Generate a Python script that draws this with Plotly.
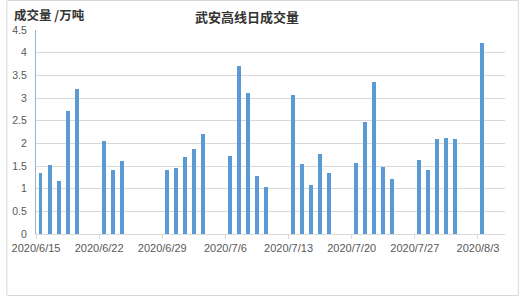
import plotly.graph_objects as go

# 每日成交量（万吨）
dates = [
    "2020-06-15", "2020-06-16", "2020-06-17", "2020-06-18", "2020-06-19",
    "2020-06-22", "2020-06-23", "2020-06-24",
    "2020-06-29", "2020-06-30", "2020-07-01", "2020-07-02", "2020-07-03",
    "2020-07-06", "2020-07-07", "2020-07-08", "2020-07-09", "2020-07-10",
    "2020-07-13", "2020-07-14", "2020-07-15", "2020-07-16", "2020-07-17",
    "2020-07-20", "2020-07-21", "2020-07-22", "2020-07-23", "2020-07-24",
    "2020-07-27", "2020-07-28", "2020-07-29", "2020-07-30", "2020-07-31",
    "2020-08-03",
]
volumes = [
    1.35, 1.52, 1.17, 2.72, 3.20,
    2.05, 1.41, 1.61,
    1.41, 1.46, 1.69, 1.88, 2.21,
    1.72, 3.71, 3.11, 1.28, 1.04,
    3.07, 1.55, 1.08, 1.77, 1.35,
    1.57, 2.47, 3.36, 1.48, 1.21,
    1.63, 1.41, 2.10, 2.12, 2.10,
    4.22,
]

tick_dates = ["2020-06-15", "2020-06-22", "2020-06-29", "2020-07-06",
              "2020-07-13", "2020-07-20", "2020-07-27", "2020-08-03"]
tick_labels = ["2020/6/15", "2020/6/22", "2020/6/29", "2020/7/6",
               "2020/7/13", "2020/7/20", "2020/7/27", "2020/8/3"]
y_ticks = [0, 0.5, 1, 1.5, 2, 2.5, 3, 3.5, 4, 4.5]
y_labels = ["0", "0.5", "1", "1.5", "2", "2.5", "3", "3.5", "4", "4.5"]

DAY_MS = 86400000
BAR = "#5B9BD5"
GRID = "#D9D9D9"
TXT = "#595959"
FONT = "Liberation Sans, Noto Sans CJK SC, sans-serif"
CJK = "Noto Sans CJK SC, sans-serif"

fig = go.Figure(
    go.Bar(
        x=dates,
        y=volumes,
        xperiod=DAY_MS,
        xperiodalignment="middle",
        width=0.44 * DAY_MS,
        marker=dict(color=BAR, line=dict(width=0)),
        hovertemplate="%{x|%Y/%m/%d}: %{y}<extra></extra>",
    )
)

W, H = 520, 297
ml, mr, mt, mb = 30, 15, 30, 63
pw, ph = W - ml - mr, H - mt - mb

fig.update_layout(
    width=W,
    height=H,
    margin=dict(l=ml, r=mr, t=mt, b=mb),
    paper_bgcolor="white",
    plot_bgcolor="white",
    showlegend=False,
    bargap=0,
    title=dict(
        text="<b>武安高线日成交量</b>",
        font=dict(family=CJK, size=13, color="#333333"),
        x=247 / W,
        xanchor="center",
        xref="container",
        y=1 - 17 / H,
        yanchor="middle",
        yref="container",
    ),
    annotations=[
        dict(
            text="<b>成交量 /万吨</b>",
            xref="paper", yref="paper",
            x=(7 - ml) / pw,
            y=1 + (mt - 14.5) / ph,
            xanchor="left", yanchor="middle",
            showarrow=False,
            borderpad=0,
            font=dict(family=CJK, size=12.5, color="#333333"),
        )
    ],
    shapes=[
        dict(
            type="rect", xref="paper", yref="paper",
            x0=-(ml - 0.5) / pw,
            x1=1 + (mr - 1.5) / pw,
            y0=-(mb - 1.5) / ph,
            y1=1 + (mt - 0.5) / ph,
            line=dict(color=GRID, width=1),
            layer="below",
        )
    ],
)

fig.update_xaxes(
    type="date",
    range=["2020-06-15", "2020-08-06"],
    tickvals=tick_dates,
    ticktext=tick_labels,
    ticks="outside",
    ticklen=4,
    tickcolor=GRID,
    showline=True,
    linecolor=GRID,
    linewidth=1,
    showgrid=False,
    zeroline=False,
    tickfont=dict(family=FONT, size=11, color=TXT),
    fixedrange=True,
)

fig.update_yaxes(
    range=[0, 4.5],
    tickvals=y_ticks,
    ticktext=y_labels,
    showgrid=True,
    gridcolor=GRID,
    gridwidth=1,
    zeroline=False,
    showline=True,
    linecolor="#9DB4CE",
    linewidth=1,
    ticks="",
    ticklabelstandoff=6,
    tickfont=dict(family=FONT, size=10.5, color=TXT),
    fixedrange=True,
)

fig.write_html("out.html", config={"displayModeBar": False})
